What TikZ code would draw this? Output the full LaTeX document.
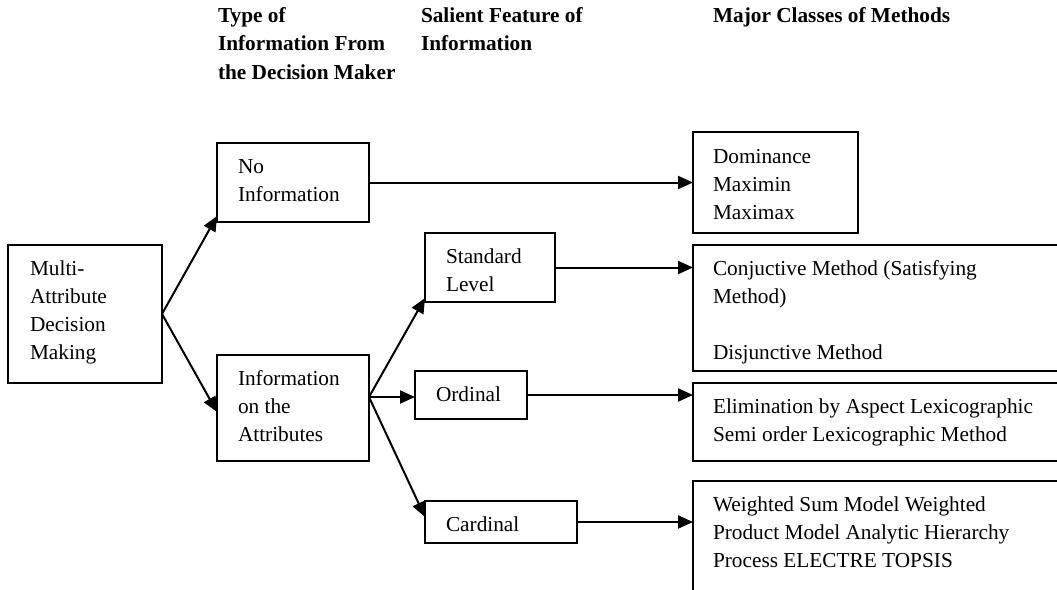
\documentclass[tikz,border=0pt]{standalone}
\usepackage{fontspec}
\setmainfont{Liberation Serif}
\usetikzlibrary{calc,arrows.meta}
\tikzset{
  box/.style={draw, line width=2pt, inner sep=0pt, outer sep=0pt, anchor=north west},
  txt/.style={inner sep=0pt, outer sep=0pt, anchor=base west, font=\fontsize{21.3}{28}\selectfont},
  hdr/.style={txt, font=\fontsize{21.3}{28}\selectfont\bfseries},
  conn/.style={line width=2pt, -{Triangle[length=15pt,width=13pt]}},
}
\newcommand{\lines}[1]{\begin{tabular}[t]{@{}l@{}}#1\end{tabular}}
\begin{document}
\begin{tikzpicture}[x=1pt,y=-1pt]
\useasboundingbox (0,0) rectangle (1057,589);
\clip (0,0) rectangle (1057,589);
% headers
\node[hdr] (h1) at (218,23) {\lines{Type of\\Information From\\the Decision Maker}};
\node[hdr] (h2) at (421,23) {\lines{Salient Feature of\\Information}};
\node[hdr] (h3) at (713,23) {\lines{Major Classes of Methods}};
% boxes
\node[box, minimum width=154pt, minimum height=138pt] (multi) at (8,245) {};
\node[box, minimum width=152pt, minimum height=79pt] (noinfo) at (217,143) {};
\node[box, minimum width=152pt, minimum height=106pt] (infoatt) at (217,355) {};
\node[box, minimum width=130pt, minimum height=69pt] (std) at (425,233) {};
\node[box, minimum width=112pt, minimum height=48pt] (ord) at (415,371) {};
\node[box, minimum width=152pt, minimum height=42pt] (card) at (425,501) {};
\node[box, minimum width=165pt, minimum height=101pt] (dom) at (693,132) {};
\node[box, minimum width=380pt, minimum height=126pt] (conj) at (693,245) {};
\node[box, minimum width=380pt, minimum height=78pt] (elim) at (693,383) {};
\node[box, minimum width=380pt, minimum height=120pt] (wsum) at (693,481) {};
% texts
\node[txt] (tmulti) at ($(multi.north west)+(22,30)$) {\lines{Multi-\\Attribute\\Decision\\Making}};
\node[txt] (tnoinfo) at ($(noinfo.north west)+(21,30)$) {\lines{No\\Information}};
\node[txt] (tinfoatt) at ($(infoatt.north west)+(21,30)$) {\lines{Information\\on the\\Attributes}};
\node[txt] (tstd) at ($(std.north west)+(21,30)$) {\lines{Standard\\Level}};
\node[txt] (tord) at ($(ord.north west)+(21,30)$) {\lines{Ordinal}};
\node[txt] (tcard) at ($(card.north west)+(21,30)$) {\lines{Cardinal}};
\node[txt] (tdom) at ($(dom.north west)+(20,31)$) {\lines{Dominance\\Maximin\\Maximax}};
\node[txt] (tconj) at ($(conj.north west)+(20,30)$) {\lines{Conjuctive Method (Satisfying\\Method)\\ \\Disjunctive Method}};
\node[txt] (telim) at ($(elim.north west)+(20,30)$) {\lines{Elimination by Aspect Lexicographic\\Semi order Lexicographic Method}};
\node[txt] (twsum) at ($(wsum.north west)+(20,30)$) {\lines{Weighted Sum Model Weighted\\Product Model Analytic Hierarchy\\Process ELECTRE TOPSIS}};
% connectors
\coordinate (branch) at ($(infoatt.north east)+(0,42)$);
\draw[conn] (multi.east) -- ($(noinfo.south west)+(0,-6)$);
\draw[conn] (multi.east) -- ($(infoatt.north west)+(0,57)$);
\draw[conn] (branch) -- ($(std.south west)+(0,-4)$);
\draw[conn] (branch) -- (branch -| ord.west);
\draw[conn] (branch) -- ($(card.north west)+(0,16)$);
\draw[conn] (noinfo.east) -- (noinfo.east -| dom.west);
\draw[conn] (std.east) -- (std.east -| conj.west);
\draw[conn] (ord.east) -- (ord.east -| elim.west);
\draw[conn] (card.east) -- (card.east -| wsum.west);
\end{tikzpicture}
\end{document}
